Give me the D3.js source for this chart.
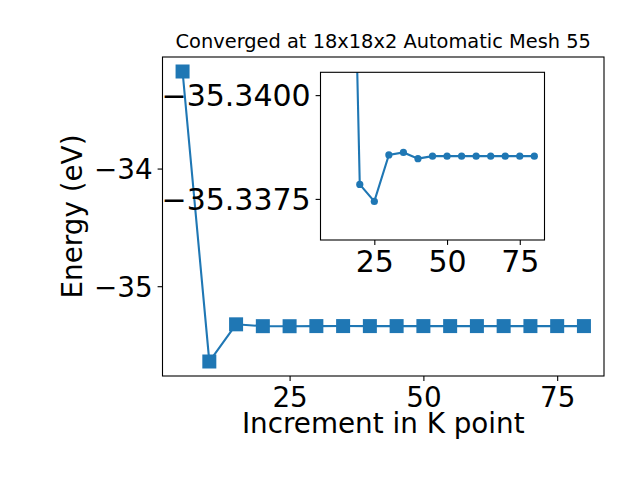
<!DOCTYPE html>
<html><head><meta charset="utf-8">
<script src="https://cdn.jsdelivr.net/npm/d3@7"></script>
<style>body{margin:0;background:#fff} text{font-family:"DejaVu Sans",sans-serif;fill:#000}</style>
</head><body><svg id="c" width="640" height="480" xmlns="http://www.w3.org/2000/svg"></svg>
<script>
// ---- data ----
const kpoints = [5,10,15,20,25,30,35,40,45,50,55,60,65,70,75,80];
const energies = [-33.175,-35.640,-35.324,-35.33965,-35.34006,-35.33894,-35.33888,-35.33903,
                  -35.33897,-35.33897,-35.33897,-35.33897,-35.33897,-35.33897,-35.33897,-35.33897];
const insetStartK = 15;
const mainXTicks = [25,50,75];
const mainYTicks = [-35,-34];
const insetXTicks = [25,50,75];
const insetYTicks = [-35.3400,-35.3375];
const insetYTickLabels = ["\u221235.3375","\u221235.3400"];
const titleText = "Converged at 18x18x2 Automatic Mesh 55";
const xLabel = "Increment in K point";
const yLabel = "Energy (eV)";

const color = "#1f77b4";
const svg = d3.select("#c");
const pts = kpoints.map((k,i)=>({k, e: energies[i]}));
const fmt = v => String(v).replace("-", "\u2212");

// ---- main axes ----
const M = {l:162.5, r:604, t:57, b:376};
const xr = d3.extent(kpoints), yr = d3.extent(energies);
const xm = (xr[1]-xr[0])*0.05, ym = (yr[1]-yr[0])*0.05;
const x = d3.scaleLinear().domain([xr[0]-xm, xr[1]+xm]).range([M.l, M.r]);
const y = d3.scaleLinear().domain([yr[0]-ym, yr[1]+ym]).range([M.b, M.t]);

const mg = svg.append("g");
mg.append("path").datum(pts).attr("fill","none").attr("stroke",color).attr("stroke-width",2.1)
  .attr("d", d3.line().x(d=>x(d.k)).y(d=>y(d.e)));
mg.selectAll("rect.m").data(pts).join("rect").attr("class","m")
  .attr("x",d=>x(d.k)-7).attr("y",d=>y(d.e)-7).attr("width",14).attr("height",14)
  .attr("fill",color);

const xAxis = d3.axisBottom(x).tickValues(mainXTicks).tickSize(4.9).tickPadding(3.5).tickFormat(fmt);
const yAxis = d3.axisLeft(y).tickValues(mainYTicks).tickSize(4.9).tickPadding(4.9).tickFormat(fmt);
const gx = svg.append("g").attr("transform",`translate(0,${M.b})`).call(xAxis);
const gy = svg.append("g").attr("transform",`translate(${M.l},0)`).call(yAxis);
[gx,gy].forEach(g=>{
  g.select(".domain").remove();
  g.selectAll(".tick line").attr("stroke","#000").attr("stroke-width",1.1);
  g.selectAll(".tick text").attr("font-size","27.8px").attr("font-family","DejaVu Sans").attr("fill","#000");
});
gx.selectAll(".tick text").attr("dy",null).attr("y",30.7);
gy.selectAll(".tick text").attr("dy","0.36em");

svg.append("rect").attr("x",M.l).attr("y",M.t).attr("width",M.r-M.l).attr("height",M.b-M.t)
  .attr("fill","none").attr("stroke","#000").attr("stroke-width",1.1);

// labels
svg.append("text").attr("x",(M.l+M.r)/2).attr("y",433).attr("text-anchor","middle")
  .attr("font-size","27.8px").text(xLabel);
svg.append("text").attr("transform",`translate(81.7,${(M.t+M.b)/2}) rotate(-90)`).attr("text-anchor","middle")
  .attr("font-size","27.8px").text(yLabel);
svg.append("text").attr("x",(M.l+M.r)/2).attr("y",48).attr("text-anchor","middle")
  .attr("font-size","19.4px").text(titleText);

// ---- inset axes ----
const I = {l:320.5, r:544.5, t:72.3, b:240};
const xi = d3.scaleLinear().domain([6.5, 83.5]).range([I.l, I.r]);
const yi = d3.scaleLinear().domain([-35.34099, -35.33695]).range([I.b, I.t]);
const ipts = pts.filter(d=>d.k>=insetStartK);

svg.append("clipPath").attr("id","iclip").append("rect")
  .attr("x",I.l).attr("y",I.t).attr("width",I.r-I.l).attr("height",I.b-I.t);
svg.append("rect").attr("x",I.l).attr("y",I.t).attr("width",I.r-I.l).attr("height",I.b-I.t).attr("fill","#fff");
const ig = svg.append("g").attr("clip-path","url(#iclip)");
ig.append("path").datum(ipts).attr("fill","none").attr("stroke",color).attr("stroke-width",2.1)
  .attr("d", d3.line().x(d=>xi(d.k)).y(d=>yi(d.e)));
ig.selectAll("circle").data(ipts).join("circle")
  .attr("cx",d=>xi(d.k)).attr("cy",d=>yi(d.e)).attr("r",3.6).attr("fill",color);

const ixAxis = d3.axisBottom(xi).tickValues(insetXTicks).tickSize(4.9).tickPadding(3.5).tickFormat(fmt);
const iyAxis = d3.axisLeft(yi).tickValues(insetYTicks).tickSize(4.9).tickPadding(4.9)
  .tickFormat((d,i)=>insetYTickLabels[i]);
const igx = svg.append("g").attr("transform",`translate(0,${I.b})`).call(ixAxis);
const igy = svg.append("g").attr("transform",`translate(${I.l},0)`).call(iyAxis);
[igx,igy].forEach(g=>{
  g.select(".domain").remove();
  g.selectAll(".tick line").attr("stroke","#000").attr("stroke-width",1.1);
  g.selectAll(".tick text").attr("font-size","30px").attr("font-family","DejaVu Sans").attr("fill","#000");
});
igx.selectAll(".tick text").attr("dy",null).attr("y",32);
igy.selectAll(".tick text").attr("dy","0.36em");
svg.append("rect").attr("x",I.l).attr("y",I.t).attr("width",I.r-I.l).attr("height",I.b-I.t)
  .attr("fill","none").attr("stroke","#000").attr("stroke-width",1.1);
</script></body></html>
